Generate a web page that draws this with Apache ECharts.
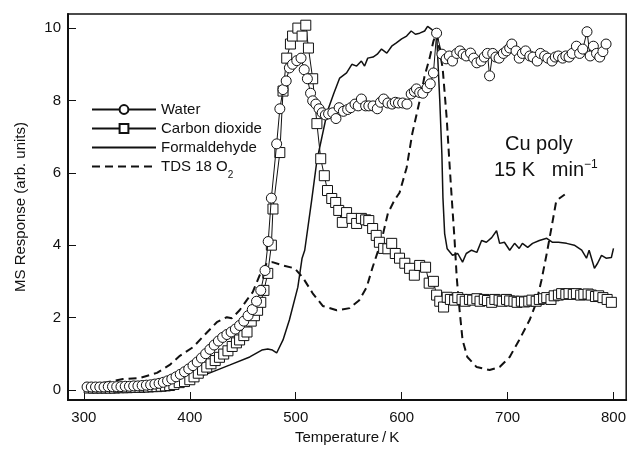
<!DOCTYPE html>
<html>
<head>
<meta charset="utf-8">
<script src="https://cdn.jsdelivr.net/npm/echarts@6/dist/echarts.min.js"></script>
<style>
  html, body { margin: 0; padding: 0; background: #fff; }
  #chart { width: 629px; height: 450px; }
</style>
</head>
<body>
<div id="chart"></div>
<script>
// [Temperature K, MS response]
var waterData = [
  [303,0.08],[307,0.08],[311,0.08],[315,0.08],[319,0.08],[323,0.09],[327,0.09],[331,0.09],[335,0.09],
  [339,0.1],[343,0.1],[347,0.11],[351,0.11],[355,0.12],[359,0.13],[363,0.14],[367,0.16],[371,0.18],
  [375,0.21],[379,0.25],[383,0.3],[387,0.36],[391,0.43],[395,0.5],[399,0.58],[403,0.67],[407,0.77],
  [411,0.88],[415,1.0],[419,1.12],[423,1.24],[427,1.35],[431,1.45],[435,1.53],[439,1.6],[443,1.68],
  [447,1.78],[451,1.9],[455,2.05],[459,2.22],[463,2.45],[467,2.75],[471,3.3],[474,4.1],[477,5.3],
  [482,6.8],[485,7.77],[488,8.3],[491,8.54],[494,8.9],[497,9.0],[501,9.1],[505,9.17],[508,8.85],
  [511,8.6],[514,8.2],[516,7.99],[519,7.9],[522,7.77],[525,7.66],[528,7.6],[531,7.63],[535,7.66],
  [538,7.5],[541,7.8],[545,7.7],[549,7.75],[552,7.8],[556,7.9],[559,7.85],[562,8.04],[566,7.85],
  [569,7.85],[573,7.85],[577,7.77],[580,7.95],[583,8.04],[587,7.93],[591,7.9],[594,7.95],[597,7.93],
  [601,7.93],[605,7.9],[609,8.18],[612,8.25],[614,8.32],[617,8.22],[620,8.2],[624,8.35],[627,8.46],
  [630,8.76],[633,9.86],[638,9.28],[642,9.15],[645,9.23],[648,9.09],[652,9.3],[655,9.37],[658,9.28],
  [661,9.23],[665,9.31],[668,9.17],[671,9.04],[675,9.09],[678,9.2],[681,9.3],[683,8.68],[686,9.3],
  [689,9.2],[692,9.17],[696,9.3],[699,9.37],[702,9.45],[704,9.56],[708,9.37],[711,9.17],[714,9.3],
  [717,9.37],[721,9.23],[724,9.2],[728,9.09],[731,9.3],[735,9.23],[738,9.17],[742,9.09],[745,9.2],
  [748,9.23],[752,9.17],[755,9.23],[758,9.2],[761,9.3],[765,9.5],[768,9.3],[771,9.42],[775,9.9],
  [778,9.23],[781,9.5],[784,9.3],[787,9.2],[790,9.35],[793,9.56]
];
var co2Data = [
  [305,0.05],[309,0.05],[313,0.05],[317,0.05],[321,0.05],[325,0.05],[329,0.05],[333,0.06],[337,0.06],
  [341,0.06],[345,0.07],[349,0.07],[353,0.07],[357,0.08],[361,0.08],[365,0.09],[369,0.09],[373,0.1],
  [377,0.11],[381,0.12],[385,0.15],[390,0.2],[395,0.23],[400,0.28],[404,0.36],[408,0.46],[412,0.55],
  [416,0.63],[420,0.72],[424,0.81],[428,0.9],[432,0.99],[436,1.08],[440,1.2],[444,1.3],[447,1.38],
  [451,1.5],[454,1.6],[458,1.9],[461,2.05],[464,2.2],[467,2.42],[470,2.75],[473.6,3.22],[477,4.0],
  [478.5,5.0],[485,6.56],[488,8.26],[491.5,9.17],[495,9.56],[497,9.78],[502,10.0],[506,9.78],
  [509.5,10.08],[512,9.45],[516,8.6],[520,7.36],[523.6,6.39],[527,5.92],[530,5.51],[534,5.29],
  [537.7,5.18],[540.6,4.96],[544,4.63],[548,4.9],[553,4.74],[557.5,4.6],[562,4.74],[566,4.7],
  [569,4.68],[572.6,4.46],[576,4.27],[579,4.08],[583,3.91],[587,3.9],[590.6,4.05],[594,3.77],
  [598,3.64],[603,3.5],[607.5,3.36],[612,3.17],[617,3.44],[622.6,3.39],[626,2.95],[630,3.0],
  [633,2.62],[636,2.45],[639.6,2.29],[643,2.56],[646,2.5],[650,2.48],[653,2.55],[657,2.5],[660,2.45],
  [664,2.5],[667,2.48],[671,2.52],[674,2.45],[678,2.5],[681,2.47],[685,2.42],[688,2.5],[692,2.48],
  [695,2.45],[699,2.5],[702,2.46],[706,2.45],[709,2.42],[713,2.45],[716,2.43],[720,2.45],[723,2.48],
  [727,2.45],[730,2.5],[734,2.52],[737,2.55],[741,2.5],[744,2.6],[748,2.62],[751,2.66],[755,2.64],
  [758,2.66],[762,2.64],[765,2.66],[769,2.62],[772,2.64],[776,2.65],[779,2.62],[783,2.58],[786,2.6],
  [790,2.55],[794,2.5],[798,2.42]
];
var formaldehydeData = [
  [305,0.03],[330,0.04],[350,0.06],[362,0.08],[381,0.14],[400,0.28],[419,0.47],[438,0.69],
  [456.6,0.91],[468,1.1],[473.6,1.13],[478,1.1],[482,1.02],[488,1.38],[494,1.93],[502,2.84],
  [506,3.64],[508.5,3.86],[515,5.23],[520,6.34],[530,7.71],[536,8.2],[541.5,8.62],[548,8.76],
  [553,9.0],[557.5,8.95],[562,9.09],[565,8.95],[568,9.17],[573,9.2],[577,9.28],[581,9.42],[586,9.31],
  [590.6,9.5],[595,9.59],[600,9.7],[604.7,9.78],[609,9.92],[613,9.83],[617,9.86],[621.7,9.92],
  [624.5,10.05],[628,9.97],[630,9.92],[633,9.86],[636,8.0],[638,6.5],[639,5.3],[640.6,4.32],[643,3.9],
  [648,3.72],[653,3.77],[657.5,3.53],[661,3.77],[666,3.86],[671,3.8],[675.5,4.13],[680,4.08],
  [685,4.21],[689.6,4.4],[692.5,4.05],[697,4.08],[702,3.86],[706.6,4.05],[711,3.91],[714,4.05],
  [719,3.94],[723.6,4.05],[730,4.13],[737,4.19],[742.5,4.08],[748,4.08],[755.7,4.05],[763,4.0],
  [770,3.86],[774.5,3.64],[777,3.86],[782,3.36],[785,3.5],[788.7,3.72],[793,3.64],[798,3.66],[800,3.91]
];
var tdsData = [
  [318,0.19],[337,0.3],[353,0.33],[369,0.47],[381,0.69],[390.6,0.94],[403,1.18],[414,1.52],
  [425.5,1.87],[435,2.01],[439.6,1.98],[447,2.2],[453.8,2.48],[459.4,2.7],[466,3.17],[472.6,3.5],
  [478,3.53],[488,3.44],[499,3.36],[506.6,3.11],[516,2.67],[525.5,2.32],[538.7,2.2],[551,2.26],
  [560,2.48],[567,2.84],[572.6,3.39],[581,4.13],[587,4.88],[593,5.23],[598,5.45],[604.7,6.14],
  [610,7.08],[617,7.99],[621.7,8.68],[626.4,9.17],[630,9.64],[633,9.86],[638.7,8.9],[642.5,7.52],
  [645,6.34],[647,5.43],[650,4.13],[652,3.11],[654.7,2.2],[657.5,1.38],[662,0.91],[670.8,0.63],
  [683,0.55],[692.5,0.63],[702,0.91],[711,1.38],[720.8,1.93],[727,2.4],[732,3.03],[737,3.77],
  [741.5,4.49],[746,5.23],[754,5.4]
];
var xTicks = [300, 400, 500, 600, 700, 800];
var yTicks = [0, 2, 4, 6, 8, 10];

var xMin = 285, xMax = 812, yMin = -0.28, yMax = 10.39;
var font = 'Liberation Sans, Arial, sans-serif';
var chart = echarts.init(document.getElementById('chart'));

var markerStyle = { color: '#fff', borderColor: '#111', borderWidth: 1 };

chart.setOption({
  animation: false,
  backgroundColor: '#fff',
  textStyle: { fontFamily: font, color: '#111' },
  // grid border gives the top edge of the frame
  grid: { left: 68, right: 2, top: 14, bottom: 50, show: true, borderColor: '#111', borderWidth: 1.5 },
  legend: {
    orient: 'vertical',
    left: 86,
    top: 97,
    itemWidth: 64,
    itemHeight: 11,
    itemGap: 4,
    data: [
      { name: 'Water' },
      { name: 'Carbon dioxide' },
      { name: 'Formaldehyde', itemStyle: { opacity: 0 } },
      { name: 'TDS 18 O2', itemStyle: { opacity: 0 } }
    ],
    formatter: function (name) {
      return name === 'TDS 18 O2' ? 'TDS 18 O{sub|2}' : name;
    },
    textStyle: {
      fontFamily: font, fontSize: 15, color: '#111',
      rich: { sub: { fontFamily: font, fontSize: 10, color: '#111', verticalAlign: 'bottom', padding: [0, 0, -6, 0] } }
    }
  },
  xAxis: {
    type: 'value',
    min: xMin,
    max: xMax,
    name: 'Temperature\u2009/\u2009K',
    nameLocation: 'middle',
    nameGap: 29,
    nameTextStyle: { fontFamily: font, fontSize: 15, color: '#111' },
    axisLine: { onZero: false, lineStyle: { color: '#111', width: 2 } },
    axisTick: { inside: true, length: 8, customValues: xTicks, lineStyle: { color: '#111', width: 1 } },
    axisLabel: { customValues: xTicks, fontFamily: font, fontSize: 15, color: '#111', margin: 10 },
    splitLine: { show: false }
  },
  yAxis: {
    type: 'value',
    min: yMin,
    max: yMax,
    name: 'MS Response (arb. units)',
    nameLocation: 'middle',
    nameGap: 40,
    nameTextStyle: { fontFamily: font, fontSize: 15, color: '#111' },
    axisLine: { show: true, onZero: false, lineStyle: { color: '#111', width: 2 } },
    axisTick: { show: true, inside: true, length: 8, customValues: yTicks, lineStyle: { color: '#111', width: 1 } },
    axisLabel: { customValues: yTicks, fontFamily: font, fontSize: 15, color: '#111', margin: 7 },
    splitLine: { show: false }
  },
  series: [
    {
      name: 'TDS 18 O2',
      type: 'line',
      data: tdsData,
      symbol: 'none',
      z: 2,
      lineStyle: { color: '#111', width: 2, type: [8, 5] },
      itemStyle: { color: '#111' }
    },
    {
      name: 'Formaldehyde',
      type: 'line',
      data: formaldehydeData,
      symbol: 'none',
      z: 3,
      lineStyle: { color: '#111', width: 1.5 },
      itemStyle: { color: '#111' }
    },
    {
      name: 'Carbon dioxide',
      type: 'line',
      data: co2Data,
      symbol: 'rect',
      symbolSize: 10,
      showAllSymbol: true,
      z: 4,
      lineStyle: { color: '#111', width: 1 },
      itemStyle: markerStyle
    },
    {
      name: 'Water',
      type: 'line',
      data: waterData,
      symbol: 'circle',
      symbolSize: 10,
      showAllSymbol: true,
      z: 5,
      lineStyle: { color: '#111', width: 1 },
      itemStyle: markerStyle
    }
  ],
  graphic: [
    {
      id: 'label1', type: 'text', left: 505, top: 134,
      style: { text: 'Cu poly', fontFamily: font, fontSize: 20, fill: '#111' }
    },
    {
      id: 'label2', type: 'text', left: 494, top: 159,
      style: {
        text: '15 K   min{sup|\u22121}', fontFamily: font, fontSize: 20, fill: '#111',
        rich: { sup: { fontFamily: font, fontSize: 12, fill: '#111', verticalAlign: 'top', padding: [0, 0, 10, 0] } }
      }
    }
  ]
});
</script>
</body>
</html>
